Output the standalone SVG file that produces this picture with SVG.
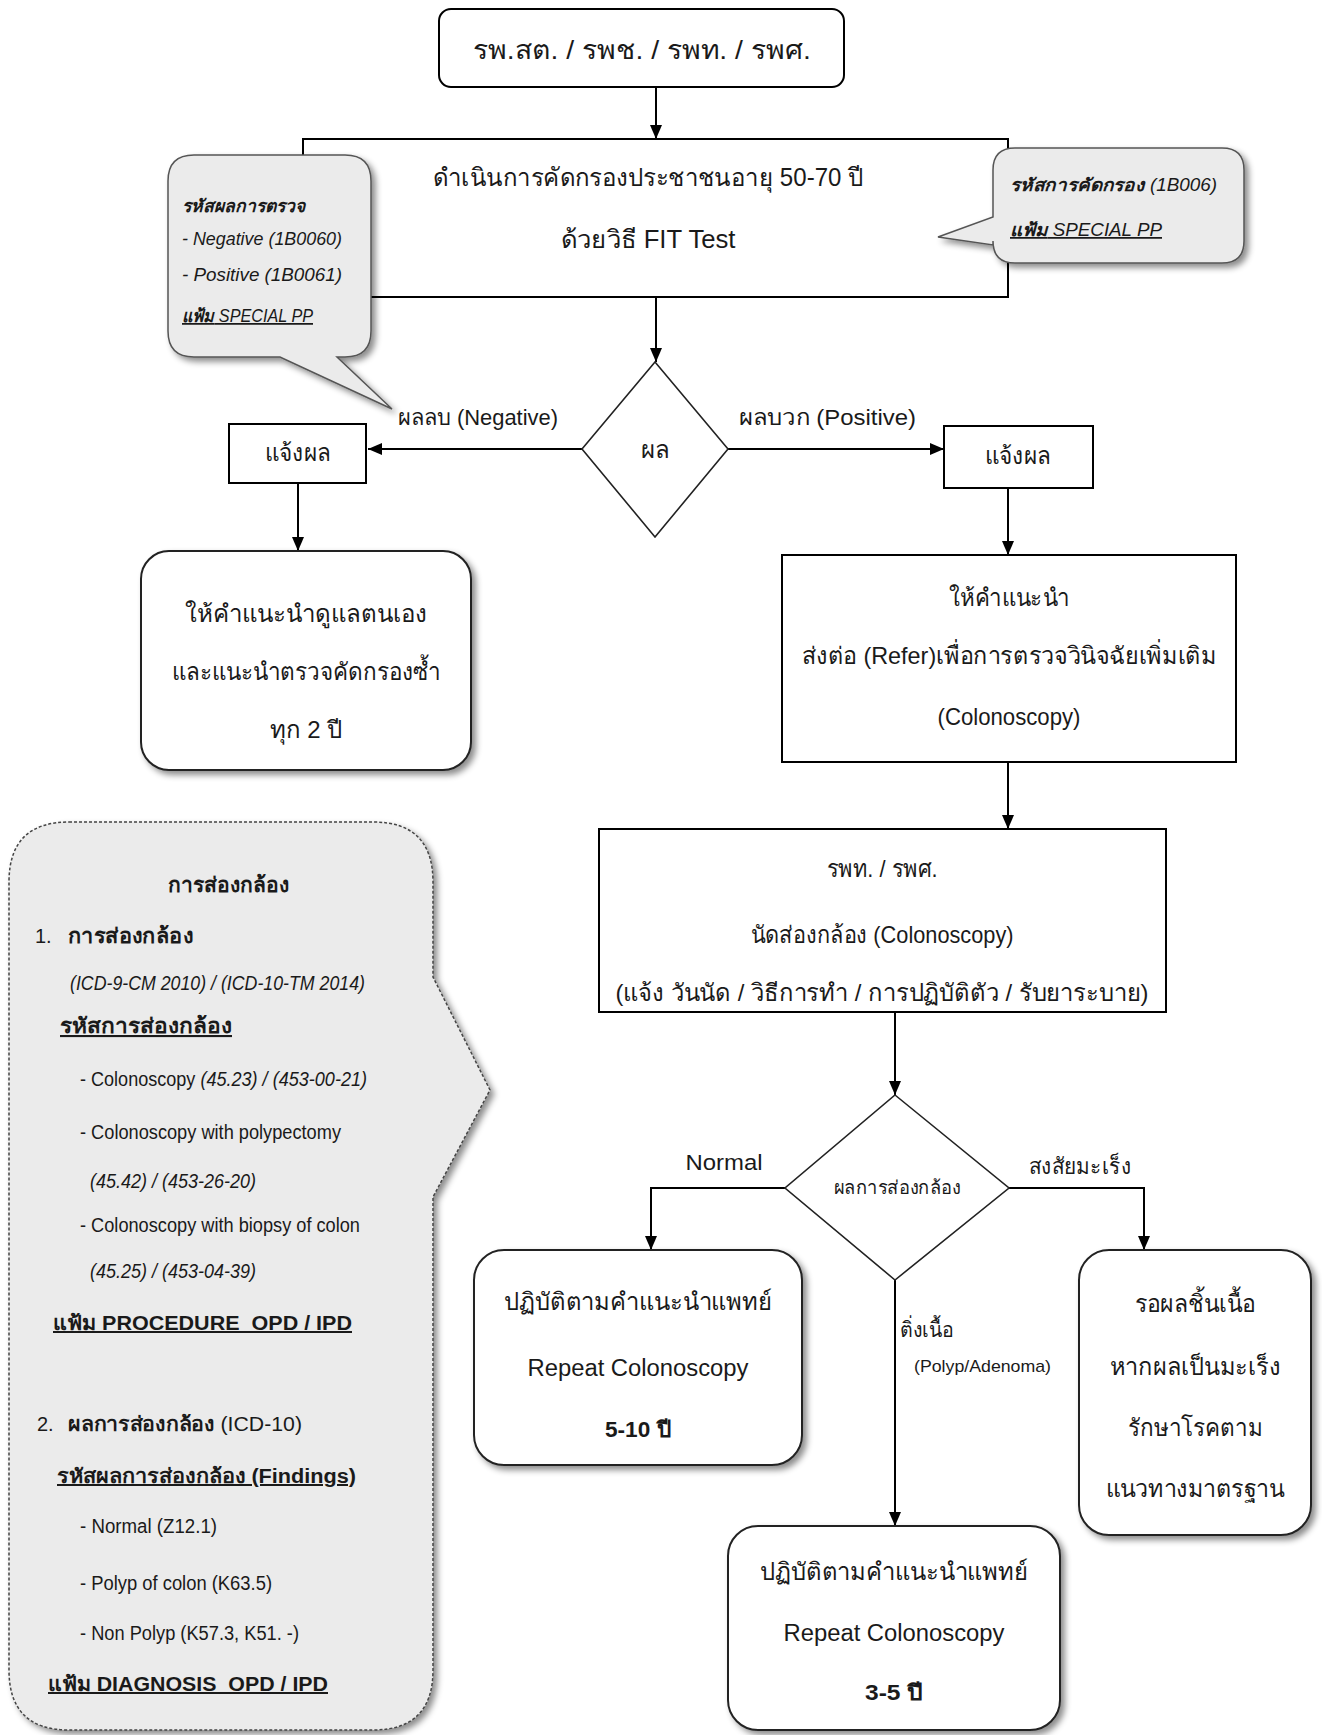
<svg xmlns="http://www.w3.org/2000/svg" width="1322" height="1735" viewBox="0 0 1322 1735">
<defs>
<filter id="sh" x="-10%" y="-10%" width="125%" height="125%"><feDropShadow dx="4" dy="4" stdDeviation="3" flood-color="#000" flood-opacity="0.45"/></filter>
<marker id="ah" markerUnits="userSpaceOnUse" markerWidth="14" markerHeight="12" refX="14" refY="6" orient="auto"><path d="M0,0 L14,6 L0,12 Z" fill="#000"/></marker>
<style>
.box{fill:#fff;stroke:#000;stroke-width:2}
.rbox{fill:#fff;stroke:#222;stroke-width:2;filter:url(#sh)}
.dia{fill:#fff;stroke:#222;stroke-width:1.6}
.call{fill:#ebebeb;stroke:#555;stroke-width:1.5;filter:url(#sh)}
.big{fill:#ebebeb;stroke:#444;stroke-width:1.5;stroke-dasharray:3 2;filter:url(#sh)}
.con{fill:none;stroke:#000;stroke-width:2;marker-end:url(#ah)}
text{font-family:"Liberation Sans Narrow","Liberation Sans","DejaVu Sans",sans-serif;fill:#1a1a1a}
.c{text-anchor:middle;font-size:24px}
.l{font-size:22px}
.s{font-size:17.5px;font-style:italic}
.m{font-size:20px}
.b{font-weight:bold}
.i{font-style:italic}
.u{text-decoration:underline}
</style>
</defs>

<g id="connectors">
<path class="con" d="M656,87 V139"/>
<path class="con" d="M656,297 V362"/>
<path class="con" d="M582,449 H368"/>
<path class="con" d="M728,449 H944"/>
<path class="con" d="M298,483 V551"/>
<path class="con" d="M1008,488 V555"/>
<path class="con" d="M1008,762 V829"/>
<path class="con" d="M895,1012 V1095"/>
<path class="con" d="M785,1188 H651 V1250"/>
<path class="con" d="M1009,1188 H1144 V1250"/>
<path class="con" d="M895,1280 V1526"/>
</g>

<g id="n-start">
<rect class="box" x="439" y="9" width="405" height="78" rx="12"/>
<text class="c" x="642" y="59" style="font-size:26px" textLength="338" lengthAdjust="spacingAndGlyphs">รพ.สต. / รพช. / รพท. / รพศ.</text>
</g>

<g id="n-screen">
<rect class="box" x="303" y="139" width="705" height="158"/>
<text class="c" x="648" y="186" style="font-size:25px" textLength="431" lengthAdjust="spacingAndGlyphs">ดำเนินการคัดกรองประชาชนอายุ 50-70 ปี</text>
<text class="c" x="648" y="248" style="font-size:25px" textLength="175" lengthAdjust="spacingAndGlyphs">ด้วยวิธี FIT Test</text>
</g>

<g id="n-callout-result">
<path class="call" d="M194,155 H345 Q371,155 371,181 V331 Q371,357 345,357 H337 L392,409 L280,357 H194 Q168,357 168,331 V181 Q168,155 194,155 Z"/>
<text class="s b" x="182" y="212">รหัสผลการตรวจ</text>
<text class="s" x="182" y="245" textLength="160" lengthAdjust="spacingAndGlyphs">- Negative (1B0060)</text>
<text class="s" x="182" y="281" textLength="160" lengthAdjust="spacingAndGlyphs">- Positive   (1B0061)</text>
<text class="s u" x="182" y="322" textLength="131" lengthAdjust="spacingAndGlyphs"><tspan class="b">แฟ้ม</tspan> SPECIAL PP</text>
</g>

<g id="n-callout-screen">
<path class="call" d="M1015,148 H1222 Q1244,148 1244,170 V241 Q1244,263 1222,263 H1015 Q993,263 993,241 V245 L938,237 L993,217 V170 Q993,148 1015,148 Z"/>
<text class="s" x="1010" y="191" textLength="207" lengthAdjust="spacingAndGlyphs"><tspan class="b">รหัสการคัดกรอง</tspan> (1B006)</text>
<text class="s u" x="1010" y="236" textLength="152" lengthAdjust="spacingAndGlyphs"><tspan class="b">แฟ้ม</tspan> SPECIAL PP</text>
</g>

<g id="n-result">
<polygon class="dia" points="655,362 728,449 655,537 582,449"/>
<text class="c" x="655" y="458">ผล</text>
</g>

<g id="l-neg"><text class="l" x="398" y="425" textLength="160" lengthAdjust="spacingAndGlyphs">ผลลบ (Negative)</text></g>
<g id="l-pos"><text class="l" x="739" y="425" textLength="177" lengthAdjust="spacingAndGlyphs">ผลบวก (Positive)</text></g>

<g id="n-notify-neg">
<rect class="box" x="229" y="424" width="137" height="59"/>
<text class="c" x="298" y="461" textLength="66" lengthAdjust="spacingAndGlyphs">แจ้งผล</text>
</g>

<g id="n-notify-pos">
<rect class="box" x="944" y="426" width="149" height="62"/>
<text class="c" x="1018" y="464" textLength="66" lengthAdjust="spacingAndGlyphs">แจ้งผล</text>
</g>

<g id="n-selfcare">
<rect class="rbox" x="141" y="551" width="330" height="219" rx="28"/>
<text class="c" x="306" y="622" textLength="243" lengthAdjust="spacingAndGlyphs">ให้คำแนะนำดูแลตนเอง</text>
<text class="c" x="306" y="680" textLength="269" lengthAdjust="spacingAndGlyphs">และแนะนำตรวจคัดกรองซ้ำ</text>
<text class="c" x="306" y="738">ทุก 2 ปี</text>
</g>

<g id="n-refer">
<rect class="box" x="782" y="555" width="454" height="207"/>
<text class="c" x="1009" y="606" textLength="121" lengthAdjust="spacingAndGlyphs">ให้คำแนะนำ</text>
<text class="c" x="1009" y="664" textLength="415" lengthAdjust="spacingAndGlyphs">ส่งต่อ (Refer)เพื่อการตรวจวินิจฉัยเพิ่มเติม</text>
<text class="c" x="1009" y="725" textLength="143" lengthAdjust="spacingAndGlyphs">(Colonoscopy)</text>
</g>

<g id="n-appoint">
<rect class="box" x="599" y="829" width="567" height="183"/>
<text class="c" x="882" y="877" textLength="111" lengthAdjust="spacingAndGlyphs">รพท. / รพศ.</text>
<text class="c" x="882" y="943" textLength="263" lengthAdjust="spacingAndGlyphs">นัดส่องกล้อง (Colonoscopy)</text>
<text class="c" x="882" y="1001" textLength="533" lengthAdjust="spacingAndGlyphs">(แจ้ง วันนัด / วิธีการทำ / การปฏิบัติตัว / รับยาระบาย)</text>
</g>

<g id="n-scope-result">
<polygon class="dia" points="895,1095 1009,1188 895,1280 785,1188"/>
<text class="c" x="897" y="1194" style="font-size:19px" textLength="127" lengthAdjust="spacingAndGlyphs">ผลการส่องกล้อง</text>
</g>

<g id="l-normal"><text class="c" x="724" y="1170" style="font-size:22px" textLength="77" lengthAdjust="spacingAndGlyphs">Normal</text></g>
<g id="l-cancer"><text class="c" x="1080" y="1174" style="font-size:22px" textLength="102" lengthAdjust="spacingAndGlyphs">สงสัยมะเร็ง</text></g>
<g id="l-polyp">
<text class="l" x="900" y="1337" style="font-size:21px" textLength="54" lengthAdjust="spacingAndGlyphs">ติ่งเนื้อ</text>
<text class="l" x="914" y="1372" style="font-size:17px" textLength="137" lengthAdjust="spacingAndGlyphs">(Polyp/Adenoma)</text>
</g>

<g id="n-normal">
<rect class="rbox" x="474" y="1250" width="328" height="215" rx="30"/>
<text class="c" x="638" y="1310" textLength="268" lengthAdjust="spacingAndGlyphs">ปฏิบัติตามคำแนะนำแพทย์</text>
<text class="c" x="638" y="1376" style="font-size:23px" textLength="221" lengthAdjust="spacingAndGlyphs">Repeat Colonoscopy</text>
<text class="c b" x="638" y="1437" style="font-size:22px" textLength="66" lengthAdjust="spacingAndGlyphs">5-10 ปี</text>
</g>

<g id="n-cancer">
<rect class="rbox" x="1079" y="1250" width="232" height="285" rx="30"/>
<text class="c" x="1195" y="1312" textLength="121" lengthAdjust="spacingAndGlyphs">รอผลชิ้นเนื้อ</text>
<text class="c" x="1195" y="1375" textLength="171" lengthAdjust="spacingAndGlyphs">หากผลเป็นมะเร็ง</text>
<text class="c" x="1195" y="1436" textLength="135" lengthAdjust="spacingAndGlyphs">รักษาโรคตาม</text>
<text class="c" x="1195" y="1497" textLength="179" lengthAdjust="spacingAndGlyphs">แนวทางมาตรฐาน</text>
</g>

<g id="n-polyp">
<rect class="rbox" x="728" y="1526" width="332" height="204" rx="30"/>
<text class="c" x="894" y="1580" textLength="268" lengthAdjust="spacingAndGlyphs">ปฏิบัติตามคำแนะนำแพทย์</text>
<text class="c" x="894" y="1641" style="font-size:23px" textLength="221" lengthAdjust="spacingAndGlyphs">Repeat Colonoscopy</text>
<text class="c b" x="894" y="1700" style="font-size:22px" textLength="58" lengthAdjust="spacingAndGlyphs">3-5 ปี</text>
</g>

<g id="n-codes">
<path class="big" d="M69,822 H373 Q433,822 433,882 V977 L490,1090 L433,1197 V1670 Q433,1730 373,1730 H69 Q9,1730 9,1670 V882 Q9,822 69,822 Z"/>
<text class="c b" x="228" y="892" style="font-size:21px">การส่องกล้อง</text>
<text class="m" x="35" y="943">1.</text>
<text class="m b" x="68" y="943" style="font-size:21px" textLength="125" lengthAdjust="spacingAndGlyphs">การส่องกล้อง</text>
<text class="m i" x="70" y="990" textLength="295" lengthAdjust="spacingAndGlyphs">(ICD-9-CM 2010) / (ICD-10-TM 2014)</text>
<text class="m b u" x="60" y="1033" style="font-size:21px" textLength="172" lengthAdjust="spacingAndGlyphs">รหัสการส่องกล้อง</text>
<text class="m" x="80" y="1086" textLength="287" lengthAdjust="spacingAndGlyphs">- Colonoscopy <tspan class="i">(45.23) / (453-00-21)</tspan></text>
<text class="m" x="80" y="1139" textLength="261" lengthAdjust="spacingAndGlyphs">- Colonoscopy with polypectomy</text>
<text class="m i" x="90" y="1188" textLength="166" lengthAdjust="spacingAndGlyphs">(45.42) / (453-26-20)</text>
<text class="m" x="80" y="1232" textLength="280" lengthAdjust="spacingAndGlyphs">- Colonoscopy with biopsy of colon</text>
<text class="m i" x="90" y="1278" textLength="166" lengthAdjust="spacingAndGlyphs">(45.25) / (453-04-39)</text>
<text class="m b u" x="53" y="1330" textLength="299" lengthAdjust="spacingAndGlyphs">แฟ้ม PROCEDURE_OPD / IPD</text>
<text class="m" x="37" y="1431">2.</text>
<text class="m" x="68" y="1431" textLength="234" lengthAdjust="spacingAndGlyphs"><tspan class="b">ผลการส่องกล้อง</tspan> (ICD-10)</text>
<text class="m b u" x="57" y="1483" textLength="299" lengthAdjust="spacingAndGlyphs">รหัสผลการส่องกล้อง (Findings)</text>
<text class="m" x="80" y="1533" textLength="137" lengthAdjust="spacingAndGlyphs">-  Normal (Z12.1)</text>
<text class="m" x="80" y="1590" textLength="192" lengthAdjust="spacingAndGlyphs">-  Polyp of colon (K63.5)</text>
<text class="m" x="80" y="1640" textLength="219" lengthAdjust="spacingAndGlyphs">-  Non Polyp (K57.3, K51. -)</text>
<text class="m b u" x="48" y="1691" textLength="280" lengthAdjust="spacingAndGlyphs">แฟ้ม DIAGNOSIS_OPD / IPD</text>
</g>
</svg>
